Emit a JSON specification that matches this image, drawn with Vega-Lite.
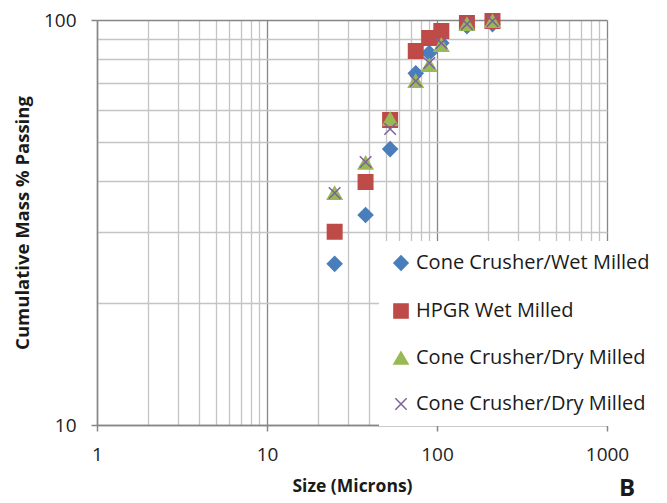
{
  "$schema": "https://vega.github.io/schema/vega-lite/v6.json",
  "width": 510,
  "height": 405,
  "autosize": {"type": "none"},
  "padding": {"left": 97, "top": 20, "right": 60, "bottom": 78},
  "background": "white",
  "config": {
    "view": {"stroke": null},
    "font": "Open Sans",
    "axis": {
      "labelFont": "Open Sans",
      "labelFontSize": 19,
      "labelColor": "#222222",
      "titleFont": "Open Sans",
      "titleFontWeight": "bold",
      "titleColor": "#1a1a1a",
      "domainColor": "#868686",
      "domainWidth": 1.5,
      "tickColor": "#868686",
      "tickWidth": 1.5,
      "tickSize": 6,
      "gridWidth": 1.3,
      "labelOverlap": false,
      "labelFlush": false
    },
    "legend": {
      "orient": "none",
      "legendX": 282,
      "legendY": 221,
      "fillColor": "white",
      "padding": 12,
      "rowPadding": 26,
      "labelFont": "Open Sans",
      "labelFontSize": 20,
      "labelColor": "#1a1a1a",
      "labelLimit": 400,
      "labelOffset": 5,
      "symbolSize": 200,
      "symbolStrokeWidth": 1.5
    }
  },
  "title": {
    "text": "B",
    "orient": "bottom",
    "anchor": "end",
    "frame": "group",
    "font": "Open Sans",
    "fontSize": 24,
    "fontWeight": "bold",
    "color": "#1a1a1a",
    "dx": 28,
    "dy": -22
  },
  "data": {
    "values": [
      {"s": "A", "size": 25, "pct": 25.0},
      {"s": "A", "size": 38, "pct": 33.0},
      {"s": "A", "size": 53, "pct": 48.0},
      {"s": "A", "size": 75, "pct": 73.9},
      {"s": "A", "size": 90, "pct": 82.9},
      {"s": "A", "size": 106, "pct": 87.7},
      {"s": "A", "size": 150, "pct": 96.6},
      {"s": "A", "size": 212, "pct": 97.7},
      {"s": "B", "size": 25, "pct": 30.0},
      {"s": "B", "size": 38, "pct": 39.8},
      {"s": "B", "size": 53, "pct": 56.6},
      {"s": "B", "size": 75, "pct": 83.8},
      {"s": "B", "size": 90, "pct": 90.3},
      {"s": "B", "size": 106, "pct": 94.0},
      {"s": "B", "size": 150, "pct": 98.3},
      {"s": "B", "size": 212, "pct": 99.4},
      {"s": "C", "size": 25, "pct": 37.4},
      {"s": "C", "size": 38, "pct": 44.4},
      {"s": "C", "size": 53, "pct": 57.0},
      {"s": "C", "size": 75, "pct": 70.7},
      {"s": "C", "size": 90, "pct": 77.4},
      {"s": "C", "size": 106, "pct": 86.8},
      {"s": "C", "size": 150, "pct": 97.7},
      {"s": "C", "size": 212, "pct": 99.4},
      {"s": "D", "size": 25, "pct": 37.4},
      {"s": "D", "size": 38, "pct": 44.6},
      {"s": "D", "size": 53, "pct": 53.8},
      {"s": "D", "size": 75, "pct": 70.7},
      {"s": "D", "size": 90, "pct": 78.3},
      {"s": "D", "size": 106, "pct": 87.7},
      {"s": "D", "size": 150, "pct": 97.7},
      {"s": "D", "size": 212, "pct": 99.4}
    ]
  },
  "mark": {"type": "point", "filled": true, "opacity": 1, "size": 210, "strokeWidth": 1.5},
  "encoding": {
    "x": {
      "field": "size",
      "type": "quantitative",
      "scale": {"type": "log", "domain": [1, 1000], "nice": false},
      "axis": {
        "title": "Size (Microns)",
        "titleFontSize": 17.5,
        "titlePadding": 13,
        "values": [1,2,3,4,5,6,7,8,9,10,20,30,40,50,60,70,80,90,100,200,300,400,500,600,700,800,900,1000],
        "labelExpr": "indexof([1,10,100,1000], datum.value) >= 0 ? format(datum.value, 'd') : ''",
        "labelPadding": 14,
        "gridColor": {"condition": {"test": "indexof([1,10,100,1000], datum.value) >= 0", "value": "#868686"}, "value": "#c4c4c4"},
        "tickOpacity": {"condition": {"test": "indexof([1,10,100,1000], datum.value) >= 0", "value": 1}, "value": 0}
      }
    },
    "y": {
      "field": "pct",
      "type": "quantitative",
      "scale": {"type": "log", "domain": [10, 100], "nice": false},
      "axis": {
        "title": "Cumulative Mass % Passing",
        "titleFontSize": 18.5,
        "titlePadding": 11,
        "values": [10,20,30,40,50,60,70,80,90,100],
        "labelExpr": "indexof([10,100], datum.value) >= 0 ? format(datum.value, 'd') : ''",
        "labelPadding": 15,
        "gridColor": {"condition": {"test": "indexof([10,100], datum.value) >= 0", "value": "#868686"}, "value": "#c4c4c4"},
        "tickOpacity": {"condition": {"test": "indexof([10,100], datum.value) >= 0", "value": 1}, "value": 0}
      }
    },
    "fill": {
      "field": "s",
      "type": "nominal",
      "scale": {"domain": ["A","B","C","D"], "range": ["#4a7ebb", "#be4b48", "#98b954", "#7d60a0"]},
      "legend": {
        "title": null,
        "labelExpr": "datum.value == 'A' ? 'Cone Crusher/Wet Milled' : datum.value == 'B' ? 'HPGR Wet Milled' : 'Cone Crusher/Dry Milled'"
      }
    },
    "stroke": {
      "field": "s",
      "type": "nominal",
      "scale": {"domain": ["A","B","C","D"], "range": ["#4a7ebb", "#be4b48", "#98b954", "#7d60a0"]},
      "legend": {
        "title": null,
        "labelExpr": "datum.value == 'A' ? 'Cone Crusher/Wet Milled' : datum.value == 'B' ? 'HPGR Wet Milled' : 'Cone Crusher/Dry Milled'"
      }
    },
    "shape": {
      "field": "s",
      "type": "nominal",
      "scale": {"domain": ["A","B","C","D"], "range": ["diamond", "square", "triangle-up", "M-0.8,-0.8L0.8,0.8M-0.8,0.8L0.8,-0.8"]},
      "legend": {
        "title": null,
        "labelExpr": "datum.value == 'A' ? 'Cone Crusher/Wet Milled' : datum.value == 'B' ? 'HPGR Wet Milled' : 'Cone Crusher/Dry Milled'"
      }
    }
  }
}
